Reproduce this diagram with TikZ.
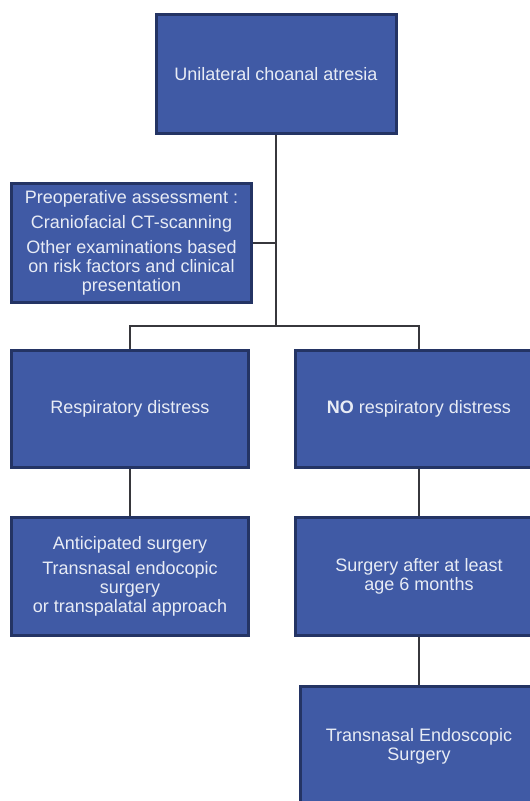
\documentclass[tikz,border=0pt]{standalone}
\usepackage{fontspec}
\setmainfont{Liberation Sans}
\definecolor{boxfill}{RGB}{64,90,165}
\definecolor{boxline}{RGB}{36,52,100}
\definecolor{txtcol}{RGB}{232,236,245}
\definecolor{conncol}{RGB}{55,55,60}
\begin{document}
\begin{tikzpicture}[x=1pt,y=-1pt,
  box/.style={draw=boxline, line width=3pt, fill=boxfill, text=txtcol,
    font=\fontsize{18}{19}\selectfont, align=center, inner sep=0pt},
  conn/.style={draw=conncol, line width=1.6pt}]
\useasboundingbox (0,0) rectangle (530,801);
\clip (0,0) rectangle (530,801);

\node[box, minimum width=240pt, minimum height=119pt] (top) at (276,74) {Unilateral choanal atresia};
\node[box, minimum width=240pt, minimum height=119pt] (pre) at (131.5,243)
  {Preoperative assessment :\\[6pt] Craniofacial CT-scanning\\[6pt] Other examinations based\\ on risk factors and clinical\\ presentation};
\node[box, minimum width=237pt, minimum height=117pt] (rd) at (130,409) {Respiratory distress};
\node[box, minimum width=247pt, minimum height=117pt] (nrd) at (419,409) {\textbf{NO} respiratory distress};
\node[box, minimum width=237pt, minimum height=118pt] (as) at (130,576.5)
  {Anticipated surgery\\[6pt] Transnasal endocopic\\ surgery\\ or transpalatal approach};
\node[box, minimum width=247pt, minimum height=118pt] (sa) at (419,576.5)
  {Surgery after at least\\ age 6 months};
\node[box, minimum width=237pt, minimum height=119pt] (tes) at (419,746)
  {Transnasal Endoscopic\\ Surgery};

\coordinate (bar) at (276,326);
\draw[conn] (top.south) -- (bar);
\draw[conn] (pre.east) -- (pre.east -| bar);
\draw[conn] (rd.north) |- (bar) -| (nrd.north);
\draw[conn] (rd.south) -- (as.north);
\draw[conn] (nrd.south) -- (sa.north);
\draw[conn] (sa.south) -- (tes.north);
\end{tikzpicture}
\end{document}
